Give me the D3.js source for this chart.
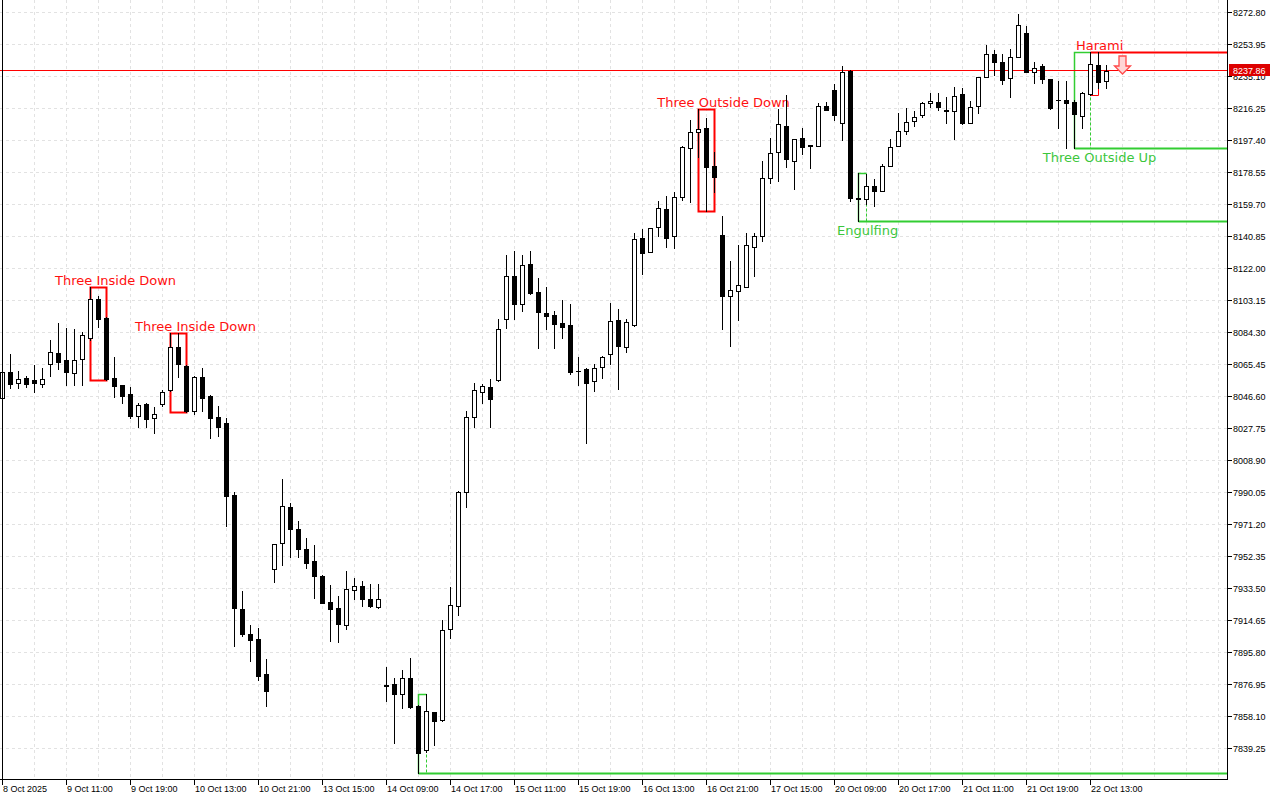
<!DOCTYPE html>
<html>
<head>
<meta charset="utf-8">
<script src="https://cdn.jsdelivr.net/npm/d3@7"></script>
<style>
  body { margin: 0; background: #fff; }
  svg { display: block; }
  text { font-family: "Liberation Sans", Arial, sans-serif; }
</style>
</head>
<body>
<div id="chart"></div>
<script>
// hourly bars
var opens = [
  8045.42, 8060.56, 8054.08, 8057.03, 8055.85, 8053.49, 8065.28, 8071.75, 8067.81, 8059.97,
  8068.22, 8080.94, 8103.74, 8092.37, 8057.03, 8052.90, 8047.78, 8034.82, 8041.89, 8033.47,
  8041.71, 8050.14, 8075.64, 8064.45, 8037.77, 8057.97, 8046.60, 8033.94, 8030.52, 7988.29,
  7921.13, 7906.41, 7903.47, 7882.84, 7944.52, 7959.83, 7981.04, 7968.07, 7956.30, 7949.41,
  7940.57, 7925.43, 7921.54, 7911.53, 7932.15, 7934.50, 7926.85, 7922.49, 7876.07, 7876.78,
  7870.77, 7880.26, 7864.05, 7838.31, 7860.22, 7855.51, 7909.29, 7923.07, 7990.05, 8034.05,
  8049.25, 8051.67, 8055.91, 8091.84, 8117.58, 8100.56, 8124.30, 8107.69, 8095.49, 8094.26,
  8089.84, 8088.37, 8061.51, 8062.33, 8055.44, 8063.51, 8071.17, 8091.37, 8075.29, 8088.43,
  8139.50, 8131.60, 8145.98, 8156.76, 8141.03, 8163.65, 8192.51, 8201.94, 8204.29, 8182.09,
  8141.44, 8105.51, 8108.63, 8110.99, 8134.55, 8141.03, 8175.19, 8190.16, 8205.65, 8185.21,
  8198.40, 8194.28, 8194.04, 8217.43, 8226.85, 8207.24, 8238.22, 8163.35, 8162.47, 8170.30,
  8167.36, 8182.26, 8194.04, 8202.88, 8208.77, 8212.13, 8219.02, 8219.96, 8214.78, 8214.48,
  8224.32, 8207.59, 8217.43, 8234.69, 8247.88, 8243.17, 8233.75, 8246.47, 8260.25, 8237.28,
  8240.99, 8233.33, 8221.08, 8220.96, 8219.61, 8211.72, 8224.32, 8241.58, 8232.16
]
var highs = [
  8070.16, 8071.17, 8061.33, 8058.38, 8064.86, 8062.92, 8079.59, 8089.78, 8086.48, 8085.89,
  8084.48, 8110.81, 8105.69, 8093.14, 8069.40, 8053.30, 8052.08, 8042.30, 8042.30, 8040.30,
  8050.14, 8083.71, 8083.54, 8064.86, 8058.20, 8062.92, 8047.00, 8040.71, 8033.47, 7989.87,
  7931.74, 7911.71, 7910.12, 7891.68, 7959.50, 7997.71, 7983.40, 7972.97, 7962.78, 7958.83,
  7941.00, 7935.27, 7928.79, 7943.69, 7939.22, 7937.63, 7935.68, 7935.68, 7886.79, 7880.37,
  7885.32, 7892.04, 7864.30, 7871.12, 7860.50, 7914.36, 7934.09, 7990.40, 8037.71, 8054.32,
  8053.67, 8056.32, 8092.25, 8129.37, 8131.78, 8129.37, 8131.78, 8116.17, 8111.10, 8096.91,
  8102.97, 8100.97, 8069.58, 8063.27, 8065.45, 8070.34, 8101.21, 8097.67, 8091.78, 8142.44,
  8144.80, 8145.60, 8161.47, 8164.41, 8166.59, 8193.87, 8209.18, 8215.66, 8210.36, 8190.51,
  8152.63, 8126.30, 8135.55, 8142.44, 8142.44, 8185.21, 8198.40, 8215.66, 8223.91, 8198.00,
  8204.29, 8194.46, 8219.37, 8219.61, 8230.39, 8241.17, 8238.50, 8177.79, 8177.37, 8174.43,
  8183.26, 8197.99, 8213.13, 8216.08, 8214.48, 8219.96, 8224.91, 8224.91, 8222.73, 8228.45,
  8227.86, 8220.37, 8234.80, 8253.36, 8250.42, 8247.88, 8250.83, 8271.62, 8264.73, 8243.17,
  8242.17, 8233.45, 8232.33, 8232.33, 8220.96, 8225.50, 8249.42, 8249.42, 8241.58
]
var lows = [
  8044.24, 8051.14, 8051.14, 8052.08, 8049.14, 8051.73, 8058.38, 8062.33, 8053.08, 8053.08,
  8053.08, 8079.59, 8087.42, 8056.20, 8046.19, 8042.30, 8033.47, 8028.17, 8028.17, 8024.63,
  8040.71, 8049.55, 8057.97, 8037.36, 8035.82, 8037.77, 8022.04, 8023.04, 7970.02, 7899.52,
  7905.23, 7890.50, 7879.31, 7864.17, 7937.21, 7947.05, 7951.94, 7951.94, 7945.46, 7927.79,
  7924.50, 7902.46, 7901.52, 7909.17, 7926.85, 7923.07, 7922.13, 7921.54, 7867.11, 7841.96,
  7863.05, 7862.64, 7824.53, 7837.00, 7840.73, 7855.16, 7904.23, 7917.77, 7981.28, 8028.34,
  8042.77, 8028.34, 8055.32, 8086.78, 8092.25, 8096.91, 8106.80, 8075.00, 8086.19, 8075.00,
  8080.71, 8059.39, 8052.79, 8019.09, 8049.72, 8057.03, 8065.45, 8050.55, 8072.34, 8088.00,
  8118.29, 8131.25, 8141.03, 8134.55, 8133.96, 8162.06, 8161.06, 8187.56, 8155.75, 8166.77,
  8086.07, 8076.23, 8091.37, 8110.80, 8117.47, 8138.08, 8172.25, 8173.43, 8181.67, 8168.36,
  8189.15, 8181.08, 8193.80, 8214.90, 8209.18, 8197.40, 8161.65, 8149.69, 8159.70, 8158.70,
  8167.10, 8182.00, 8193.87, 8200.94, 8205.83, 8211.13, 8217.02, 8215.07, 8207.42, 8197.99,
  8207.10, 8207.42, 8213.13, 8234.50, 8235.69, 8230.21, 8222.91, 8246.10, 8237.30, 8230.80,
  8230.80, 8215.49, 8204.65, 8192.51, 8192.69, 8204.65, 8224.10, 8227.86, 8227.86
]
var closes = [
  8060.74, 8053.49, 8056.44, 8053.49, 8054.08, 8056.62, 8072.34, 8066.81, 8060.56, 8067.81,
  8082.53, 8103.74, 8091.78, 8056.62, 8052.67, 8046.60, 8035.00, 8041.30, 8033.05, 8035.82,
  8049.14, 8075.64, 8065.28, 8037.94, 8057.97, 8045.60, 8033.82, 8028.52, 7987.87, 7921.54,
  7906.41, 7902.88, 7881.84, 7873.01, 7959.24, 7981.81, 7968.07, 7956.30, 7948.40, 7940.75,
  7924.84, 7920.95, 7912.12, 7932.74, 7934.50, 7926.85, 7923.07, 7926.85, 7875.78, 7871.30,
  7880.26, 7863.64, 7836.31, 7861.05, 7855.16, 7908.76, 7923.49, 7990.05, 8034.05, 8049.84,
  8052.32, 8044.60, 8086.36, 8117.17, 8100.97, 8123.71, 8107.04, 8095.91, 8093.49, 8089.19,
  8087.37, 8061.03, 8061.27, 8054.44, 8062.92, 8069.40, 8090.78, 8076.06, 8090.02, 8139.08,
  8131.01, 8145.39, 8157.17, 8139.85, 8163.65, 8193.10, 8201.94, 8203.70, 8181.32, 8175.78,
  8105.69, 8109.04, 8111.99, 8135.55, 8141.03, 8174.84, 8189.57, 8206.65, 8186.03, 8197.81,
  8193.45, 8193.69, 8217.43, 8215.07, 8212.13, 8237.28, 8163.06, 8162.88, 8170.48, 8167.36,
  8182.26, 8193.10, 8202.88, 8208.18, 8211.13, 8219.37, 8220.55, 8216.66, 8214.54, 8223.50,
  8207.24, 8217.02, 8234.69, 8247.88, 8243.17, 8232.75, 8246.47, 8265.14, 8237.63, 8239.99,
  8233.16, 8216.08, 8220.84, 8219.02, 8212.54, 8224.91, 8242.17, 8231.74, 8237.86
]

var lastPrice = 8237.86

// price scale ticks
var yTicks = [8272.80, 8253.95, 8235.10, 8216.25, 8197.40, 8178.55, 8159.70, 8140.85,
  8122.00, 8103.15, 8084.30, 8065.45, 8046.60, 8027.75, 8008.90, 7990.05, 7971.20,
  7952.35, 7933.50, 7914.65, 7895.80, 7876.95, 7858.10, 7839.25]

// time labels, one every 8 bars
var xTickLabels = ['8 Oct 2025', '9 Oct 11:00', '9 Oct 19:00', '10 Oct 13:00', '10 Oct 21:00',
  '13 Oct 15:00', '14 Oct 09:00', '14 Oct 17:00', '15 Oct 11:00', '15 Oct 19:00',
  '16 Oct 13:00', '16 Oct 21:00', '17 Oct 15:00', '20 Oct 09:00', '20 Oct 17:00',
  '21 Oct 11:00', '21 Oct 19:00', '22 Oct 13:00']

// candlestick patterns found by the indicator
var patterns = [
  {name: 'Three Inside Down', start: 11, end: 13, dir: 'bear', extend: false, labelAt: 14.2},
  {name: 'Three Inside Down', start: 21, end: 23, dir: 'bear', extend: false, labelAt: 24.2},
  {name: '', start: 52, end: 53, dir: 'bull', extend: true, labelAt: 53.2},
  {name: 'Three Outside Down', start: 87, end: 89, dir: 'bear', extend: false, labelAt: 90.2},
  {name: 'Engulfing', start: 107, end: 108, dir: 'bull', extend: true, labelAt: 108.2},
  {name: 'Three Outside Up', start: 134, end: 136, dir: 'bull', extend: true, labelAt: 137.2},
  {name: 'Harami', start: 136, end: 137, dir: 'bear', extend: true, labelAt: 137.2}
]

// sell signal arrow
var signal = {bar: 140, price: 8246.9}

var plotRight = 1227, plotBottom = 779
var red = '#ff0000', green = '#32cd32'

var svg = d3.select('#chart').append('svg').attr('width', 1280).attr('height', 800)

// 8 px per bar
var x = d3.scaleLinear().domain([0, 1]).range([2, 10])
var y = d3.scaleLinear().domain([7839.25, 8272.80]).range([748, 12])

function px(v){ return Math.round(v) + 0.5 }

svg.append('clipPath').attr('id', 'plot')
  .append('rect').attr('width', plotRight).attr('height', plotBottom)

var plot = svg.append('g').attr('clip-path', 'url(#plot)')

// grid
var grid = plot.append('g').attr('stroke', '#e2e2e2').attr('stroke-dasharray', '3,3')
grid.selectAll('line.h').data(yTicks).enter().append('line')
  .attr('x1', 0).attr('x2', plotRight)
  .attr('y1', d => px(y(d))).attr('y2', d => px(y(d)))
grid.selectAll('line.v').data(d3.range(4, 156, 4)).enter().append('line')
  .attr('x1', d => px(x(d))).attr('x2', d => px(x(d)))
  .attr('y1', 0).attr('y2', plotBottom)

// patterns
var patSel = plot.append('g')
patterns.forEach(function(p){
  var bars = d3.range(p.start, p.end + 1)
  var top = px(y(d3.max(bars, i => highs[i])))
  var bot = px(y(d3.min(bars, i => lows[i])))
  var x0 = px(x(p.start)), x1 = px(x(p.end))
  var col = p.dir == 'bull' ? green : red
  var g = patSel.append('g').attr('stroke', col).attr('fill', 'none')
  if (!p.extend) {
    g.append('rect').attr('x', x0).attr('y', top)
      .attr('width', x1 - x0).attr('height', bot - top).attr('stroke-width', 2)
  } else if (p.dir == 'bull') {
    g.append('path').attr('d', 'M' + x0 + ',' + bot + 'V' + top + 'H' + x1).attr('stroke-width', 1.5)
    g.append('line').attr('x1', x1).attr('x2', x1).attr('y1', top).attr('y2', bot)
      .attr('stroke-dasharray', '3,2')
    g.append('line').attr('x1', x0).attr('x2', plotRight).attr('y1', bot).attr('y2', bot)
      .attr('stroke-width', 2)
  } else {
    g.append('path').attr('d', 'M' + x0 + ',' + top + 'V' + bot + 'H' + x1 + 'V' + top)
    g.append('line').attr('x1', x0).attr('x2', plotRight).attr('y1', top).attr('y2', top)
      .attr('stroke-width', 2)
  }
  if (p.name) {
    plot.append('text')
      .attr('x', x(p.labelAt))
      .attr('y', p.dir == 'bull' ? bot + 13 : top - 3)
      .attr('text-anchor', 'middle')
      .style('font-family', '"DejaVu Sans", Verdana, sans-serif')
      .style('font-size', '13px')
      .attr('fill', p.dir == 'bull' ? '#3cc63c' : '#ff1010')
      .text(p.name)
  }
})

// bid line
plot.append('line')
  .attr('x1', 0).attr('x2', plotRight)
  .attr('y1', px(y(lastPrice)) - 1).attr('y2', px(y(lastPrice)) - 1)
  .attr('stroke', '#ff0000')

// candles
var candles = plot.selectAll('g.candle').data(d3.range(opens.length)).enter()
  .append('g').attr('class', 'candle')

candles.append('line')
  .attr('x1', i => px(x(i))).attr('x2', i => px(x(i)))
  .attr('y1', i => Math.round(y(highs[i]))).attr('y2', i => Math.round(y(lows[i])) + 1)
  .attr('stroke', '#000')

candles.each(function(i){
  var o = opens[i], c = closes[i]
  var t = px(y(Math.max(o, c))), b = px(y(Math.min(o, c)))
  var cx = px(x(i))
  var sel = d3.select(this)
  if (b - t < 1) {
    sel.append('line').attr('x1', cx - 2.5).attr('x2', cx + 2.5)
      .attr('y1', t).attr('y2', t).attr('stroke', '#000')
  } else {
    sel.append('rect')
      .attr('x', cx - 2).attr('y', t).attr('width', 4).attr('height', b - t)
      .attr('fill', c >= o ? '#fff' : '#000').attr('stroke', '#000')
  }
})

// sell arrow
var ax = px(x(signal.bar)), ay = Math.round(y(signal.price))
plot.append('path')
  .attr('d', 'M' + (ax - 3.5) + ',' + ay + 'H' + (ax + 3.5) + 'V' + (ay + 10) +
    'H' + (ax + 8) + 'L' + ax + ',' + (ay + 18) + 'L' + (ax - 8) + ',' + (ay + 10) +
    'H' + (ax - 3.5) + 'Z')
  .attr('fill', '#ffd6d6').attr('stroke', '#ff4a4a').attr('stroke-width', 1.3)

// frame
svg.append('line').attr('x1', 2.5).attr('x2', 2.5).attr('y1', 0).attr('y2', plotBottom)
  .attr('stroke', '#000')
svg.append('line').attr('x1', plotRight + 0.5).attr('x2', plotRight + 0.5)
  .attr('y1', 0).attr('y2', plotBottom + 1).attr('stroke', '#000')
svg.append('line').attr('x1', 0).attr('x2', plotRight + 1)
  .attr('y1', plotBottom + 0.5).attr('y2', plotBottom + 0.5).attr('stroke', '#000')

// price axis
var yAx = svg.append('g')
yAx.selectAll('line').data(yTicks).enter().append('line')
  .attr('x1', plotRight).attr('x2', plotRight + 5)
  .attr('y1', d => px(y(d))).attr('y2', d => px(y(d)))
  .attr('stroke', '#000')
yAx.selectAll('text').data(yTicks).enter().append('text')
  .attr('x', plotRight + 6).attr('y', d => Math.round(y(d)) + 4)
  .style('font-size', '9px').attr('fill', '#000')
  .text(d => d.toFixed(2))

// current price tag
var ly = Math.round(y(lastPrice)) - 1
svg.append('rect').attr('x', plotRight + 2).attr('y', ly - 6)
  .attr('width', 41).attr('height', 12).attr('fill', '#dd0000')
svg.append('text').attr('x', plotRight + 6).attr('y', ly + 4)
  .style('font-size', '9px').attr('fill', '#fff').text(lastPrice.toFixed(2))

// time axis
var xAx = svg.append('g')
xAx.selectAll('line').data(xTickLabels).enter().append('line')
  .attr('x1', (d, k) => px(x(k * 8))).attr('x2', (d, k) => px(x(k * 8)))
  .attr('y1', plotBottom).attr('y2', plotBottom + 6).attr('stroke', '#000')
xAx.selectAll('text').data(xTickLabels).enter().append('text')
  .attr('x', (d, k) => Math.round(x(k * 8)) + 1).attr('y', plotBottom + 13)
  .style('font-size', '9px').attr('fill', '#000')
  .text(d => d)
</script>
</body>
</html>
